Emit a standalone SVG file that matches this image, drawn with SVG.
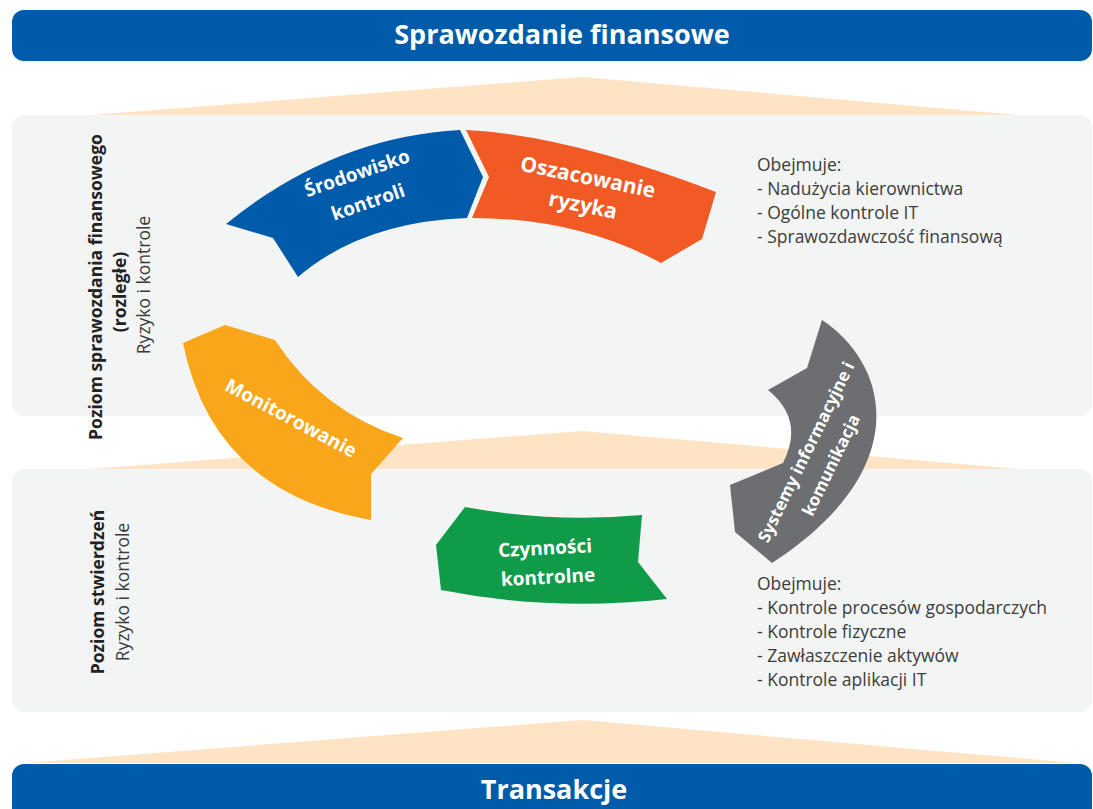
<svg xmlns="http://www.w3.org/2000/svg" width="1093" height="809" viewBox="0 0 1093 809">
<style>
.banner{fill:#005BAA}
.bt{font-family:"Open Sans","Liberation Sans",sans-serif;font-weight:700;font-size:27px;fill:#fff;text-anchor:middle}
.peach{fill:#FEE4C4}
.panel{fill:#F3F4F4}
.seg{font-family:"Open Sans","Liberation Sans",sans-serif;font-weight:700;font-size:19px;fill:#fff;text-anchor:middle}
.side{font-family:"Open Sans","Liberation Sans",sans-serif;font-size:17.5px;fill:#222;text-anchor:middle}
.sb{font-weight:700}
.sl{font-weight:400;fill:#3a3a3a}
.list{font-family:"Open Sans","Liberation Sans",sans-serif;font-size:17.5px;fill:#3c3c3c}
</style>
<rect width="1093" height="809" fill="#fff"/>
<g id="background">
<polygon class="peach" points="582,77 1075,120 25,120"/>
<polygon class="peach" points="582,431 1075,474 25,474"/>
<polygon class="peach" points="582,720 1075,763 25,763"/>
<rect class="panel" x="12" y="115" width="1080" height="301" rx="12"/>
<rect class="panel" x="12" y="469" width="1080" height="243" rx="12"/>
</g>
<g id="banner-top">
<rect class="banner" x="12" y="10" width="1080" height="51" rx="12"/>
<text class="bt" x="562" y="44">Sprawozdanie finansowe</text>
</g>
<g id="banner-bottom">
<rect class="banner" x="12" y="764" width="1080" height="60" rx="12"/>
<text class="bt" x="554" y="799">Transakcje</text>
</g>
<g id="level-financial">
<text class="side sb" transform="translate(102,287) rotate(-90)">Poziom sprawozdania finansowego</text>
<text class="side sb" transform="translate(126,292) rotate(-90)">(rozległe)</text>
<text class="side sl" transform="translate(150,285) rotate(-90)">Ryzyko i kontrole</text>
</g>
<g id="level-assertion">
<text class="side sb" transform="translate(104,592) rotate(-90)">Poziom stwierdzeń</text>
<text class="side sl" transform="translate(129,592) rotate(-90)">Ryzyko i kontrole</text>
</g>
<g id="list-top">
<text class="list" x="757" y="171">Obejmuje:</text>
<text class="list" x="757" y="195">- Nadużycia kierownictwa</text>
<text class="list" x="757" y="219">- Ogólne kontrole IT</text>
<text class="list" x="757" y="243">- Sprawozdawczość finansową</text>
</g>
<g id="list-bottom">
<text class="list" x="757" y="590">Obejmuje:</text>
<text class="list" x="757" y="614">- Kontrole procesów gospodarczych</text>
<text class="list" x="757" y="638">- Kontrole fizyczne</text>
<text class="list" x="757" y="662">- Zawłaszczenie aktywów</text>
<text class="list" x="757" y="686">- Kontrole aplikacji IT</text>
</g>
<g id="connectors"></g>
<g id="srodowisko">
<path fill="#005BAA" d="M226,224 Q333,137 460,130 L483,177 L467,218 Q362,222 298,277 L273,238 Z"/>
<text class="seg" transform="translate(357,173) rotate(-19)" dy="0.35em">Środowisko</text>
<text class="seg" transform="translate(368,202) rotate(-19)" dy="0.35em">kontroli</text>
</g>
<g id="oszacowanie">
<path fill="#F15A24" d="M466,130 Q568,135 716,192 L702,239 L661,263 Q578,218 472,218 L489,177 Z"/>
<text class="seg" style="font-size:21px" transform="translate(588,177) rotate(11.5)" dy="0.35em">Oszacowanie</text>
<text class="seg" style="font-size:21px" transform="translate(583,205) rotate(11.5)" dy="0.35em">ryzyka</text>
</g>
<g id="systemy">
<path fill="#6D6E71" d="M822,320 C890,365 915,470 772,563 L735,532 L730,485 L783,463 Q805,420 768,390 L807,368 Z"/>
<text class="seg" style="font-size:17px" transform="translate(806,452) rotate(-64)" dy="0.35em">Systemy informacyjne i</text>
<text class="seg" style="font-size:17px" transform="translate(831,465) rotate(-64)" dy="0.35em">komunikacja</text>
</g>
<g id="czynnosci">
<path fill="#109B48" d="M465,507 Q552,523 642,515 L638,562 L667,599 Q552,612 441,590 L436,545 Z"/>
<text class="seg" transform="translate(545,548) rotate(-3)" dy="0.35em">Czynności</text>
<text class="seg" transform="translate(548,577) rotate(-3)" dy="0.35em">kontrolne</text>
</g>
<g id="monitorowanie">
<path fill="#F9A61B" d="M183,343 L225,325 L275,340 Q321,411 403,438 L371,474 L371,520 Q213,492 183,343 Z"/>
<text class="seg" transform="translate(291,418) rotate(28)" dy="0.35em">Monitorowanie</text>
</g>
</svg>
